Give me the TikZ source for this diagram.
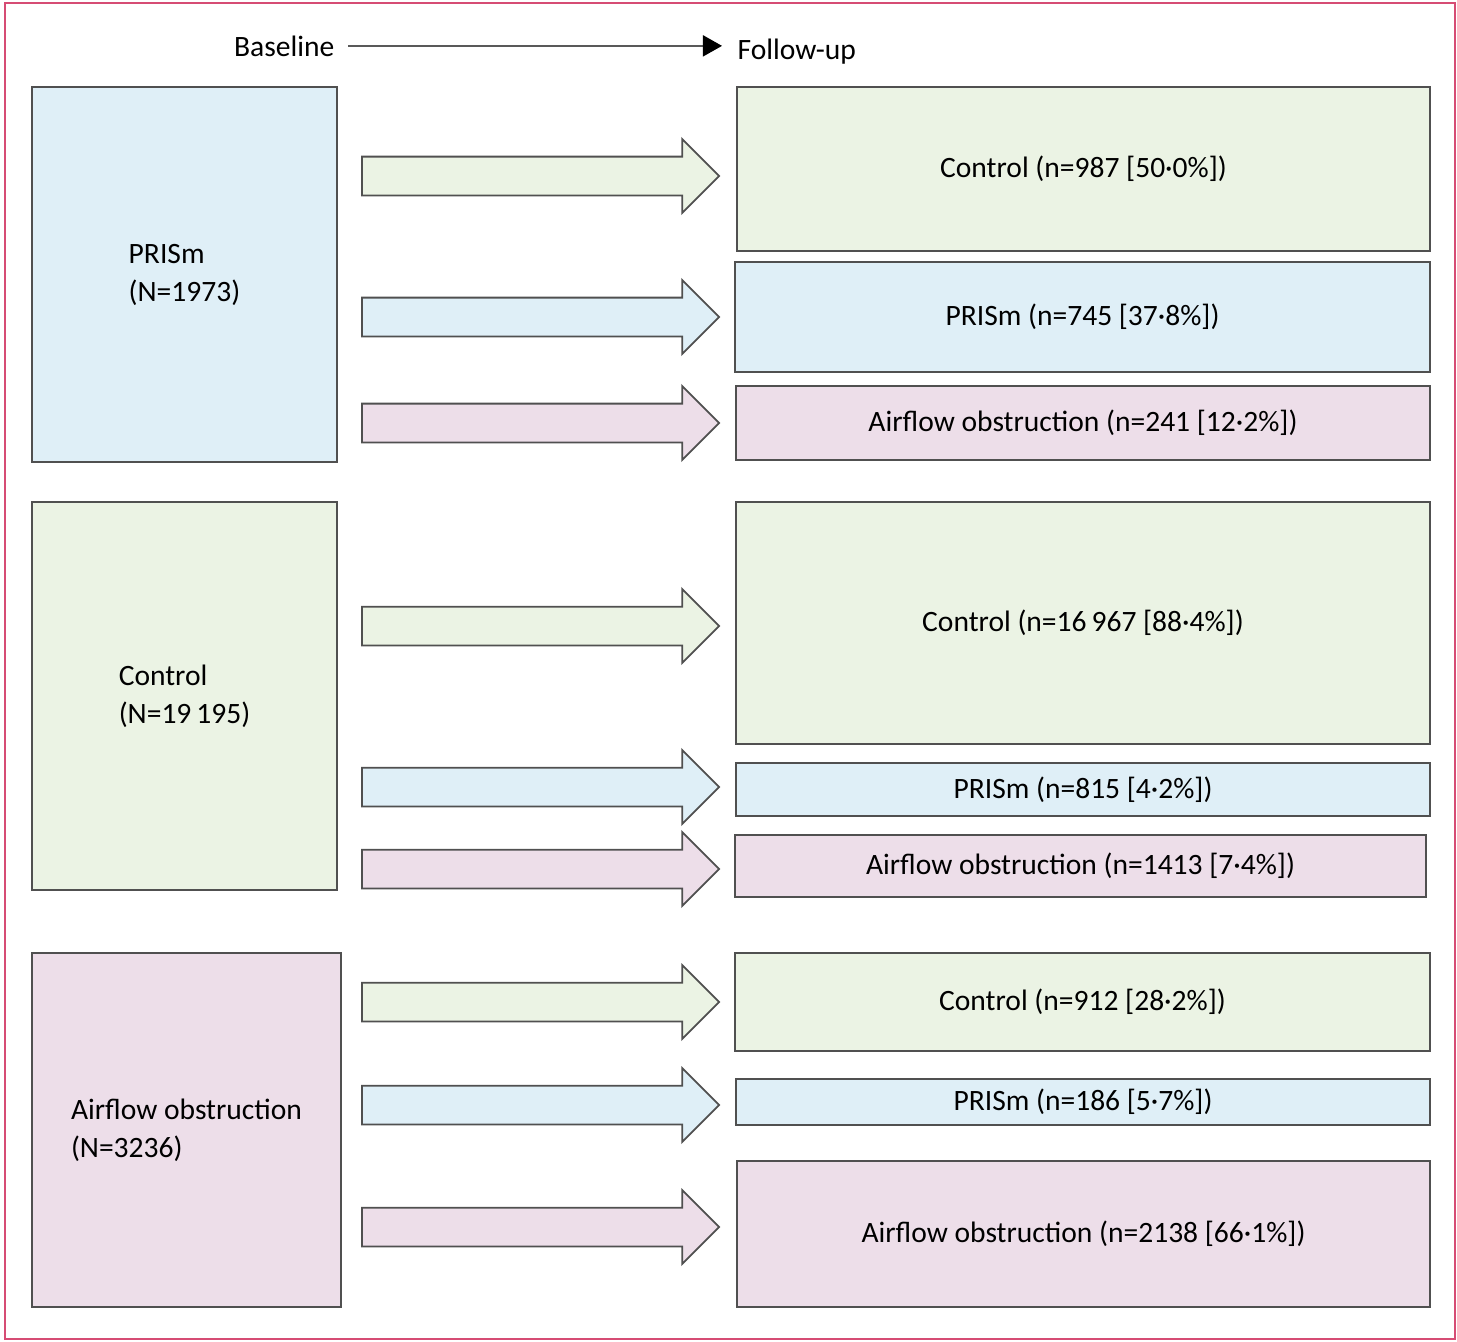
\documentclass[tikz,border=0pt]{standalone}
\usepackage{fontspec}
\setmainfont{Carlito}
\usetikzlibrary{arrows.meta,shapes.arrows}

\definecolor{ctrlgreen}{RGB}{235,243,228}
\definecolor{prisblue}{RGB}{223,239,247}
\definecolor{obstpink}{RGB}{237,222,233}
\definecolor{framered}{RGB}{214,76,116}
\definecolor{edgegray}{RGB}{80,80,80}

\begin{document}
\begin{tikzpicture}[
    x=0.01cm, y=-0.01cm,
    font=\fontsize{8.4}{10.8}\selectfont,
    box/.style={rectangle, draw=edgegray, line width=0.6pt, inner sep=0pt, align=center},
    basebox/.style={box, align=left, minimum width=3.05cm},
    fupbox/.style={box, minimum width=6.93cm},
    blockarrow/.style={single arrow, draw=edgegray, line width=0.5pt, inner xsep=0pt, inner ysep=1.85mm,
                       minimum height=3.57cm, minimum width=0.72cm, anchor=tail,
                       single arrow head extend=0.175cm, single arrow head indent=0pt},
    hdarrow/.style={-{Triangle[length=1.9mm,width=2.1mm,color=black]}, draw=black!65, line width=0.5pt,
                    shorten <=1.3mm, shorten >=1.5mm}
]
\useasboundingbox (0,0) rectangle (1457,1341);
\draw[framered, line width=0.6pt] (5,3) rectangle (1455,1339);

% header
\node[inner sep=0pt, anchor=base east] (base) at (335,56) {Baseline};
\node[inner sep=0pt, anchor=base west] (follow) at (737,59) {Follow-up};
\draw[hdarrow] (base.east) -- (base.east -| follow.west);

% baseline groups
\node[basebox, fill=prisblue, minimum height=3.75cm] (l1) at (184.5,274.5) {PRISm\\(N=1973)};
\node[basebox, fill=ctrlgreen, minimum height=3.88cm] (l2) at (184.5,696) {Control\\(N=19\,195)};
\node[basebox, fill=obstpink, minimum height=3.54cm, minimum width=3.09cm] (l3) at (186.5,1130) {Airflow obstruction\\(N=3236)};

% follow-up groups
\node[fupbox, fill=ctrlgreen, minimum height=1.64cm] (r1) at (1083.5,169) {Control (n=987 [50·0\%])};
\node[fupbox, fill=prisblue, minimum height=1.10cm, minimum width=6.95cm] (r2) at (1082.5,317) {PRISm (n=745 [37·8\%])};
\node[fupbox, fill=obstpink, minimum height=0.74cm] (r3) at (1083,423) {Airflow obstruction (n=241 [12·2\%])};
\node[fupbox, fill=ctrlgreen, minimum height=2.42cm] (r4) at (1083,623) {Control (n=16\,967 [88·4\%])};
\node[fupbox, fill=prisblue, minimum height=0.53cm] (r5) at (1083,789.5) {PRISm (n=815 [4·2\%])};
\node[fupbox, fill=obstpink, minimum height=0.62cm, minimum width=6.91cm] (r6) at (1080.5,866) {Airflow obstruction (n=1413 [7·4\%])};
\node[fupbox, fill=ctrlgreen, minimum height=0.98cm, minimum width=6.95cm] (r7) at (1082.5,1002) {Control (n=912 [28·2\%])};
\node[fupbox, fill=prisblue, minimum height=0.46cm] (r8) at (1083,1102) {PRISm (n=186 [5·7\%])};
\node[fupbox, fill=obstpink, minimum height=1.46cm] (r9) at (1083.5,1234) {Airflow obstruction (n=2138 [66·1\%])};

% transitions
\foreach \y/\c [count=\i] in {176/ctrlgreen, 317/prisblue, 423/obstpink,
                              626/ctrlgreen, 787/prisblue, 869/obstpink,
                              1002/ctrlgreen, 1105/prisblue, 1227/obstpink}
  \node[blockarrow, fill=\c] (a\i) at (361,\y) {};
\end{tikzpicture}
\end{document}
